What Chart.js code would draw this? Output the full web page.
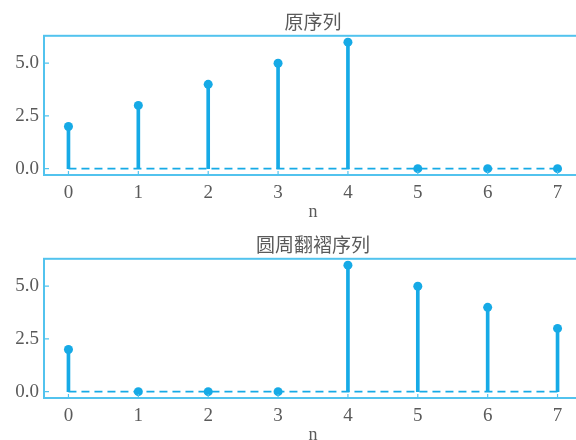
<!DOCTYPE html>
<html>
<head>
<meta charset="utf-8">
<script src="https://cdn.jsdelivr.net/npm/chart.js@4/dist/chart.umd.min.js"></script>
<style>
  html, body { margin: 0; padding: 0; background: #ffffff; overflow: hidden; width: 576px; height: 440px; }
  canvas { position: absolute; left: 0; }
  #c1 { top: 0; }
  #c2 { top: 223px; }
</style>
</head>
<body>
<canvas id="c1" width="600" height="223"></canvas>
<canvas id="c2" width="600" height="223"></canvas>
<script>
const n = [0, 1, 2, 3, 4, 5, 6, 7];
const originalSeq = [2, 3, 4, 5, 6, 0, 0, 0];
const foldedSeq = [2, 0, 0, 0, 6, 5, 4, 3];
const xTickValues = [0, 1, 2, 3, 4, 5, 6, 7];
const yTickValues = [0, 2.5, 5.0];
const titles = ['原序列', '圆周翻褶序列'];
const xLabel = 'n';

const STEM = '#16aae6';
const FRAME = '#52c3ee';
const TEXT = '#5a5a5a';

const framePlugin = {
  id: 'frame',
  afterDatasetsDraw(chart) {
    const a = chart.chartArea, ctx = chart.ctx;
    ctx.save();
    ctx.strokeStyle = FRAME;
    ctx.lineWidth = 2;
    ctx.strokeRect(a.left, a.top, a.right - a.left, a.bottom - a.top);
    // inward tick marks
    ctx.lineWidth = 1.2;
    ctx.beginPath();
    chart.scales.x.ticks.forEach(t => {
      const px = chart.scales.x.getPixelForValue(t.value);
      ctx.moveTo(px, a.bottom); ctx.lineTo(px, a.bottom - 4);
    });
    chart.scales.y.ticks.forEach(t => {
      const py = chart.scales.y.getPixelForValue(t.value);
      ctx.moveTo(a.left, py); ctx.lineTo(a.left + 5, py);
    });
    ctx.stroke();
    ctx.restore();
  }
};

function makeChart(id, values, title) {
  const pts = n.map((v, i) => ({ x: v, y: values[i] }));
  const base = n.map(v => ({ x: v, y: 0 }));
  return new Chart(document.getElementById(id), {
    type: 'scatter',
    data: {
      datasets: [
        { type: 'scatter', data: pts, pointRadius: 4.5, pointHoverRadius: 4.5,
          backgroundColor: STEM, borderColor: STEM, borderWidth: 0, order: 0 },
        { type: 'bar', data: pts, barThickness: 3, backgroundColor: STEM,
          borderWidth: 0, order: 1, grouped: false },
        { type: 'line', data: base, borderColor: STEM, borderWidth: 1.6,
          borderDash: [8, 5], pointRadius: 0, fill: false, order: 2 }
      ]
    },
    options: {
      responsive: false,
      animation: false,
      layout: { padding: { left: 0, right: 18, top: 0, bottom: 0 } },
      plugins: {
        legend: { display: false },
        tooltip: { enabled: false },
        title: {
          display: true, text: title, fullSize: false, color: TEXT,
          font: { family: '"Noto Sans CJK SC", sans-serif', size: 19, weight: 'normal' },
          padding: { top: 10, bottom: 3 }
        }
      },
      scales: {
        x: {
          type: 'linear', min: -0.35, max: 7.35, offset: false,
          grid: { display: false, drawTicks: false, offset: false },
          border: { display: false },
          afterBuildTicks(s) { s.ticks = xTickValues.map(v => ({ value: v })); },
          afterFit(s) { s.height = 48; },
          ticks: { color: TEXT, padding: 7, font: { family: '"Liberation Serif", serif', size: 19 },
                   callback: v => String(v) },
          title: { display: true, text: xLabel, color: TEXT, padding: { top: 0, bottom: 0 },
                   font: { family: '"Liberation Serif", serif', size: 18 } }
        },
        y: {
          type: 'linear', min: -0.3, max: 6.3,
          grid: { display: false, drawTicks: false },
          border: { display: false },
          afterBuildTicks(s) { s.ticks = yTickValues.map(v => ({ value: v })); },
          afterFit(s) { s.width = 44; },
          ticks: { color: TEXT, padding: 5, font: { family: '"Liberation Serif", serif', size: 19 },
                   callback: v => Number(v).toFixed(1) }
        }
      }
    },
    plugins: [framePlugin]
  });
}

makeChart('c1', originalSeq, titles[0]);
makeChart('c2', foldedSeq, titles[1]);
</script>
</body>
</html>
